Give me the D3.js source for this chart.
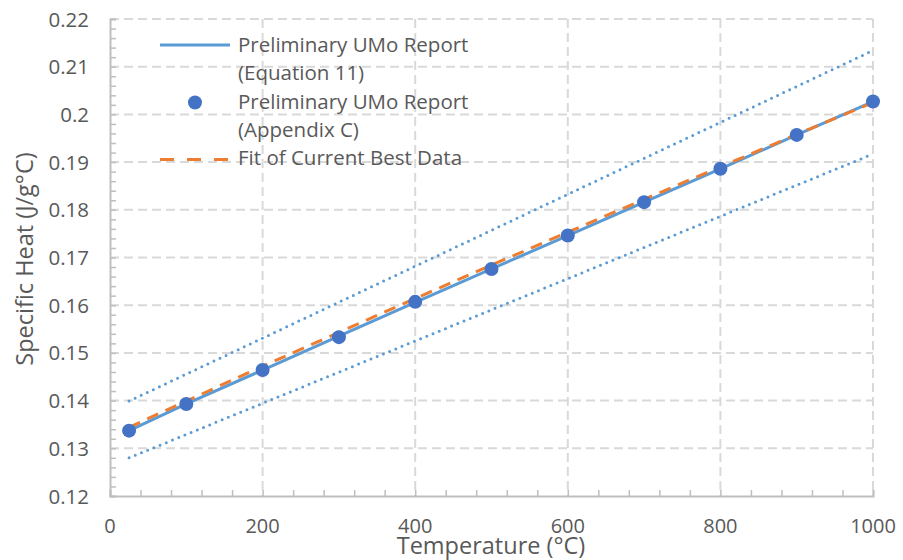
<!DOCTYPE html>
<html>
<head>
<meta charset="utf-8">
<script src="https://cdn.jsdelivr.net/npm/d3@7"></script>
<style>
  html, body { margin: 0; padding: 0; background: #fff; }
  svg { display: block; font-family: "Open Sans", "Noto Sans", sans-serif; }
</style>
</head>
<body>
<svg id="chart" width="903" height="560"></svg>
<script>
// Specific heat of UMo versus temperature
const temps = [25, 100, 200, 300, 400, 500, 600, 700, 800, 900, 1000];
const appendixC = [0.1337, 0.1393, 0.1464, 0.1533, 0.1607, 0.1676, 0.1746, 0.1816, 0.1886, 0.1957, 0.2027];
const equation11 = [0.1337, 0.1393, 0.1464, 0.1535, 0.1606, 0.1676, 0.1746, 0.1816, 0.1886, 0.1957, 0.2027];
const fitTemps = [25, 100, 200, 300, 400, 500, 600, 700, 800, 900, 1000];
const fitBest = [0.1344, 0.1399, 0.1472, 0.1543, 0.1614, 0.1684, 0.1753, 0.1822, 0.1890, 0.1958, 0.2025];
const bandTemps = [25, 1000];
const upperBand = [0.1399, 0.2134];
const lowerBand = [0.1280, 0.1917];
const xTicks = [0, 200, 400, 600, 800, 1000];
const yTicks = [0.12, 0.13, 0.14, 0.15, 0.16, 0.17, 0.18, 0.19, 0.20, 0.21, 0.22];
const yTickLabels = ["0.12", "0.13", "0.14", "0.15", "0.16", "0.17", "0.18", "0.19", "0.2", "0.21", "0.22"];
const legendLabels = [
  ["Preliminary UMo Report", "(Equation 11)"],
  ["Preliminary UMo Report", "(Appendix C)"],
  ["Fit of Current Best Data"]
];

const svg = d3.select("#chart");
const plot = { left: 110, right: 873, top: 19, bottom: 496 };
const x = d3.scaleLinear().domain([0, 1000]).range([plot.left, plot.right]);
const y = d3.scaleLinear().domain([0.12, 0.22]).range([plot.bottom, plot.top]);

const textColor = "#595959";
const gridColor = "#D9D9D9";
const axisColor = "#BFBFBF";

// dashed gridlines
const grid = svg.append("g");
grid.selectAll("line.h").data(yTicks.slice(1)).enter().append("line")
  .attr("x1", plot.left).attr("x2", plot.right)
  .attr("y1", d => y(d)).attr("y2", d => y(d))
  .attr("stroke", gridColor).attr("stroke-width", 2).attr("stroke-dasharray", "9,5");
grid.selectAll("line.v").data(xTicks.slice(1)).enter().append("line")
  .attr("y1", plot.top).attr("y2", plot.bottom)
  .attr("x1", d => x(d)).attr("x2", d => x(d))
  .attr("stroke", gridColor).attr("stroke-width", 2).attr("stroke-dasharray", "9,5");

// axes with inward minor ticks
const xMinor = d3.range(0, 1001, 40);
const yMinor = d3.range(0, 51).map(i => 0.12 + i * 0.002);
const xAxis = d3.axisBottom(x).tickValues(xMinor).tickSize(-6).tickFormat("");
const yAxis = d3.axisLeft(y).tickValues(yMinor).tickSize(-6).tickFormat("");
const gx = svg.append("g").attr("transform", `translate(0,${plot.bottom})`).call(xAxis);
const gy = svg.append("g").attr("transform", `translate(${plot.left},0)`).call(yAxis);
[gx, gy].forEach(g => {
  g.select(".domain").attr("stroke", axisColor).attr("stroke-width", 2);
  g.selectAll(".tick line").attr("stroke", axisColor).attr("stroke-width", 1.5);
});

// tick labels
svg.append("g").selectAll("text").data(xTicks).enter().append("text")
  .attr("x", d => x(d)).attr("y", 533)
  .attr("text-anchor", "middle").attr("fill", textColor).attr("font-size", 20)
  .text(d => d);
svg.append("g").selectAll("text").data(yTicks).enter().append("text")
  .attr("x", 89).attr("y", d => y(d) + 7.5)
  .attr("text-anchor", "end").attr("fill", textColor).attr("font-size", 20.5)
  .text((d, i) => yTickLabels[i]);

// axis titles
svg.append("text").attr("x", 491).attr("y", 554)
  .attr("text-anchor", "middle").attr("fill", textColor).attr("font-size", 23.5)
  .text("Temperature (°C)");
svg.append("text").attr("transform", "translate(33,259) rotate(-90)")
  .attr("text-anchor", "middle").attr("fill", textColor).attr("font-size", 23.5)
  .text("Specific Heat (J/g°C)");

const line = d3.line().x(d => x(d[0])).y(d => y(d[1]));

// ±band dotted lines
[upperBand, lowerBand].forEach(b => {
  svg.append("path").datum(bandTemps.map((t, i) => [t, b[i]]))
    .attr("d", line).attr("fill", "none")
    .attr("stroke", "#5B9BD5").attr("stroke-width", 3)
    .attr("stroke-linecap", "round").attr("stroke-dasharray", "0,6.7");
});

// Equation 11 line
svg.append("path").datum(temps.map((t, i) => [t, equation11[i]]))
  .attr("d", line).attr("fill", "none")
  .attr("stroke", "#5B9BD5").attr("stroke-width", 3);

// fit of current best data
svg.append("path").datum(fitTemps.map((t, i) => [t, fitBest[i]]))
  .attr("d", line).attr("fill", "none")
  .attr("stroke", "#ED7D31").attr("stroke-width", 3).attr("stroke-dasharray", "12,8");

// Appendix C points
svg.append("g").selectAll("circle").data(temps.map((t, i) => [t, appendixC[i]])).enter()
  .append("circle")
  .attr("cx", d => x(d[0])).attr("cy", d => y(d[1])).attr("r", 7)
  .attr("fill", "#4472C4");

// legend
const lg = svg.append("g");
lg.append("line").attr("x1", 160).attr("x2", 230).attr("y1", 45).attr("y2", 45)
  .attr("stroke", "#5B9BD5").attr("stroke-width", 3);
lg.append("circle").attr("cx", 195).attr("cy", 102.5).attr("r", 7).attr("fill", "#4472C4");
lg.append("line").attr("x1", 160).attr("x2", 229).attr("y1", 159.5).attr("y2", 159.5)
  .attr("stroke", "#ED7D31").attr("stroke-width", 3).attr("stroke-dasharray", "14,13");
const baselines = [52, 80, 108.5, 137, 165];
const flat = legendLabels.flat();
lg.selectAll("text").data(flat).enter().append("text")
  .attr("x", 238).attr("y", (d, i) => baselines[i])
  .attr("fill", textColor).attr("font-size", 20.5)
  .text(d => d);
</script>
</body>
</html>
